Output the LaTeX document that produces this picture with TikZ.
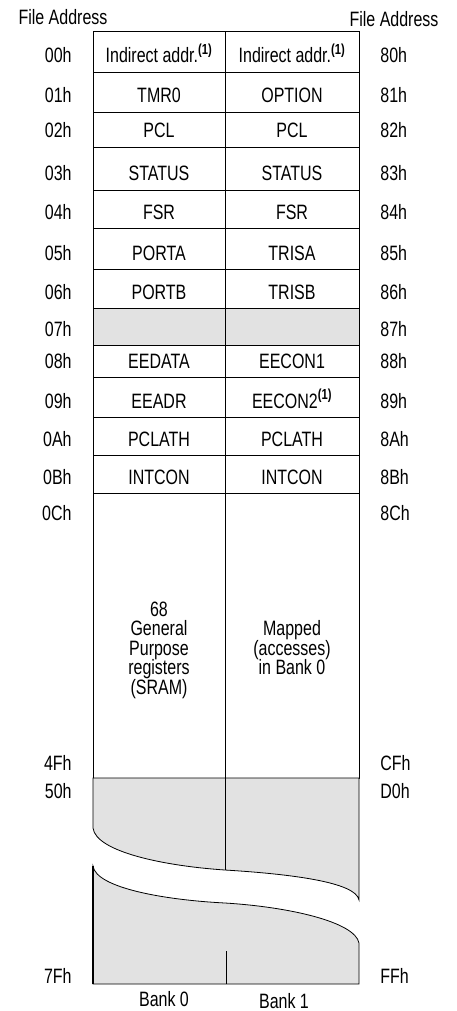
\documentclass[tikz,border=0pt]{standalone}
\usepackage{fontspec}
\setmainfont{Liberation Sans}
\usepackage{tikz}
\definecolor{RegMapGray}{RGB}{226,226,226}
\newcommand{\regnote}{\textsuperscript{\bfseries(1)}}

\begin{document}
\begin{tikzpicture}[x=1pt,y=-1pt,line width=0.8pt,
  lbl/.style={font=\fontsize{16}{15}\selectfont,yscale=1.3,inner sep=0pt,anchor=base},
  gap/.style={fill=RegMapGray,draw}]
\useasboundingbox (0,0) rectangle (457,1011);
\node[lbl] (fa0) at (63,25) {File Address};
\node[lbl] (fa1) at (394,27) {File Address};
\fill[RegMapGray] (93,308) rectangle (359,345);
\foreach \t/\b/\ao/\ai/\no/\ni in %
{31/72/00h/80h/{Indirect addr.\regnote}/{Indirect addr.\regnote},
 72/112/01h/81h/TMR0/OPTION,
 112/147/02h/82h/PCL/PCL,
 147/190/03h/83h/STATUS/STATUS,
 190/228/04h/84h/FSR/FSR,
 228/269/05h/85h/PORTA/TRISA,
 269/308/06h/86h/PORTB/TRISB,
 308/345/07h/87h/{}/{},
 345/377/08h/88h/EEDATA/EECON1,
 377/417/09h/89h/EEADR/{EECON2\regnote},
 417/455/0Ah/8Ah/PCLATH/PCLATH,
 455/493/0Bh/8Bh/INTCON/INTCON} {
   \draw (93,\t) rectangle (225,\b) (225,\t) rectangle (359,\b);
   \node[lbl] (r0-\ao) at (159,\b-9) {\no};
   \node[lbl] (r1-\ai) at (292,\b-9) {\ni};
   \node[lbl,anchor=base east] (a0-\ao) at (72,\b-9) {\ao};
   \node[lbl,anchor=base west] (a1-\ai) at (380,\b-9) {\ai};
}
% general purpose registers
\draw (93,493) rectangle (225,778) (225,493) rectangle (359,778);
\node[lbl,anchor=north,align=center] (gpr) at (159,601)
   {68\\General\\Purpose\\registers\\(SRAM)};
\node[lbl,anchor=north,align=center] (mapped) at (292,620)
   {Mapped\\(accesses)\\in Bank 0};
% unimplemented, broken
\draw[gap] (93,778) -- (93,828) .. controls (96,852) and (165,866) .. (225,870)
   .. controls (290,874) and (356,882) .. (359,900) -- (359,778) -- cycle;
\draw[gap] (93,866) .. controls (96,888) and (165,900) .. (225,903)
   .. controls (290,907) and (355,922) .. (359,943) -- (359,984) -- (93,984) -- cycle;
\draw[line width=1.6pt] (93,866) -- (93,984);
\draw (225,778) -- (225,870) (226,951) -- (226,984);
\foreach \y/\ao/\ai in %
{520/0Ch/8Ch,770/4Fh/CFh,798/50h/D0h,983/7Fh/FFh} {
   \node[lbl,anchor=base east] (a0-\ao) at (72,\y) {\ao};
   \node[lbl,anchor=base west] (a1-\ai) at (380,\y) {\ai};
}
\node[lbl] (bank0) at (164,1006) {Bank 0};
\node[lbl] (bank1) at (284,1008) {Bank 1};
\end{tikzpicture}
\end{document}
